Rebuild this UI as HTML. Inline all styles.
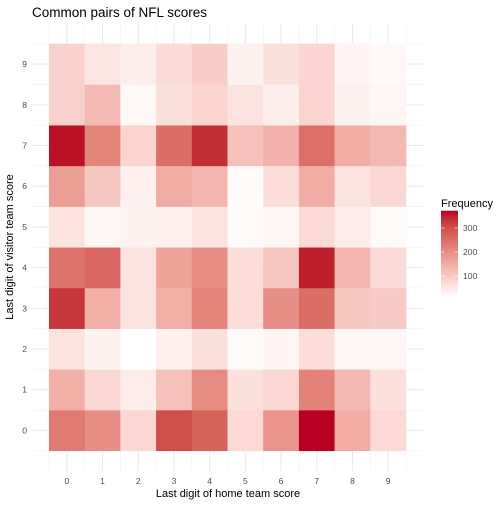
<!DOCTYPE html>
<html><head><meta charset="utf-8"><style>
body{margin:0;background:#fff;width:504px;height:504px;overflow:hidden}
svg{font-family:"Liberation Sans",sans-serif}
</style></head><body>
<svg id="chart" width="504" height="504">
<defs><linearGradient id="lg" x1="0" y1="1" x2="0" y2="0"></linearGradient></defs>
<text x="32" y="17" font-size="13.5" fill="#000">Common pairs of NFL scores</text>
<g id="grid"></g><g id="cells"></g><g id="axes"></g><g id="legend"></g>
<text x="228" y="497" font-size="11" text-anchor="middle" fill="#000">Last digit of home team score</text>
<text transform="translate(13,247) rotate(-90)" font-size="11" text-anchor="middle" fill="#000">Last digit of visitor team score</text>
</svg>
<script>
const homeDigits=[0,1,2,3,4,5,6,7,8,9];
const visitorDigits=[0,1,2,3,4,5,6,7,8,9];
const freqRow0=[230,200,80,300,270,75,190,372,150,75];
const freqRow1=[145,80,45,115,205,65,80,220,130,65];
const freqRow2=[60,35,14,38,65,22,30,68,28,28];
const freqRow3=[330,145,60,145,215,68,200,250,105,100];
const freqRow4=[245,265,60,165,200,68,105,355,135,72];
const freqRow5=[60,28,35,38,60,20,28,75,45,20];
const freqRow6=[175,105,38,150,135,22,68,150,60,80];
const freqRow7=[365,215,85,250,340,115,140,248,150,130];
const freqRow8=[90,125,25,65,85,60,42,85,35,28];
const freqRow9=[90,55,42,72,95,35,65,82,32,25];
const freqRows=[freqRow0,freqRow1,freqRow2,freqRow3,freqRow4,freqRow5,freqRow6,freqRow7,freqRow8,freqRow9];
const legendTicks=[100,200,300];
const NS="http://www.w3.org/2000/svg";
const cw=35.7,ch=40.7;
const xs=v=>66.85+v*cw, ys=v=>430.4-v*ch;
const px0=xs(-1),px1=xs(10),py0=ys(10),py1=ys(-1);
let vmin=Infinity,vmax=-Infinity;freqRows.forEach(r=>r.forEach(v=>{vmin=Math.min(vmin,v);vmax=Math.max(vmax,v)}));
// Lab interpolation
function toLin(c){c/=255;return c<=0.04045?c/12.92:Math.pow((c+0.055)/1.055,2.4)}
function fromLin(c){c=c<=0.0031308?12.92*c:1.055*Math.pow(c,1/2.4)-0.055;return Math.max(0,Math.min(255,Math.round(c*255)))}
function rgb2lab(r,g,b){r=toLin(r);g=toLin(g);b=toLin(b);let X=(r*0.4124+g*0.3576+b*0.1805)/0.95047,Y=r*0.2126+g*0.7152+b*0.0722,Z=(r*0.0193+g*0.1192+b*0.9505)/1.08883;const f=t=>t>0.008856?Math.cbrt(t):7.787*t+16/116;X=f(X);Y=f(Y);Z=f(Z);return[116*Y-16,500*(X-Y),200*(Y-Z)]}
function lab2rgb(L,a,b){let Y=(L+16)/116,X=a/500+Y,Z=Y-b/200;const fi=t=>t*t*t>0.008856?t*t*t:(t-16/116)/7.787;X=fi(X)*0.95047;Y=fi(Y);Z=fi(Z)*1.08883;const r=X*3.2406+Y*-1.5372+Z*-0.4986,g=X*-0.9689+Y*1.8758+Z*0.0415,bb=X*0.0557+Y*-0.2040+Z*1.0570;return`rgb(${fromLin(r)},${fromLin(g)},${fromLin(bb)})`}
const lo=rgb2lab(255,255,255),hi=rgb2lab(184,0,36);
function col(v){const t=(v-vmin)/(vmax-vmin);return lab2rgb(lo[0]+(hi[0]-lo[0])*t,lo[1]+(hi[1]-lo[1])*t,lo[2]+(hi[2]-lo[2])*t)}
function mk(tag,attrs,parent){const e=document.createElementNS(NS,tag);for(const k in attrs)e.setAttribute(k,attrs[k]);parent.appendChild(e);return e}
const grid=document.getElementById('grid');
for(let i=-0.5;i<=9.5;i+=1){
 let l=mk('line',{x1:xs(i),x2:xs(i),y1:py0,y2:py1,stroke:'#F2F2F2','stroke-width':0.6},grid);
 
 l=mk('line',{x1:px0,x2:px1,y1:ys(i),y2:ys(i),stroke:'#F2F2F2','stroke-width':0.6},grid);
 
}
homeDigits.forEach(d=>{
 let l=mk('line',{x1:xs(d),x2:xs(d),y1:py0,y2:py1,stroke:'#EBEBEB','stroke-width':1.1},grid);
 
});
visitorDigits.forEach(d=>{
 let l=mk('line',{x1:px0,x2:px1,y1:ys(d),y2:ys(d),stroke:'#EBEBEB','stroke-width':1.1},grid);
 
});
const cells=document.getElementById('cells');
visitorDigits.forEach((vy,ri)=>homeDigits.forEach((hx,ci)=>{
 const v=freqRows[ri][ci];
 const r=mk('rect',{x:xs(hx-0.5),y:ys(vy+0.5),width:cw+0.3,height:ch+0.3,fill:col(v)},cells);
 
 
}));
const axes=document.getElementById('axes');
homeDigits.forEach(d=>{const t=mk('text',{x:xs(d),y:484,'font-size':8.5,'text-anchor':'middle',fill:'#4D4D4D'},axes);t.textContent=d;
 });
visitorDigits.forEach(d=>{const t=mk('text',{x:27,y:ys(d)+3,'font-size':8.5,'text-anchor':'end',fill:'#4D4D4D'},axes);t.textContent=d;
 });
// legend
const lg=document.getElementById('lg');
for(let i=0;i<=10;i++){const s=mk('stop',{offset:i/10,'stop-color':col(vmin+(vmax-vmin)*i/10)},lg);}
const leg=document.getElementById('legend');
const lt=mk('text',{x:441,y:207,'font-size':11,fill:'#000'},leg);lt.textContent='Frequency';

const by0=210.7,by1=296.7,ly=v=>by1-(v-vmin)/(vmax-vmin)*(by1-by0);
const bar=mk('rect',{x:441,y:by0,width:17,height:by1-by0,fill:'url(#lg)'},leg);

legendTicks.forEach(v=>{
 const a=mk('line',{x1:441,x2:444.5,y1:ly(v),y2:ly(v),stroke:'#fff','stroke-width':0.6},leg);
 
 const b=mk('line',{x1:454.5,x2:458,y1:ly(v),y2:ly(v),stroke:'#fff','stroke-width':0.6},leg);
 
 const t=mk('text',{x:463,y:ly(v)+3,'font-size':8.5,fill:'#4D4D4D'},leg);t.textContent=v;
 
});
</script>
</body></html>
